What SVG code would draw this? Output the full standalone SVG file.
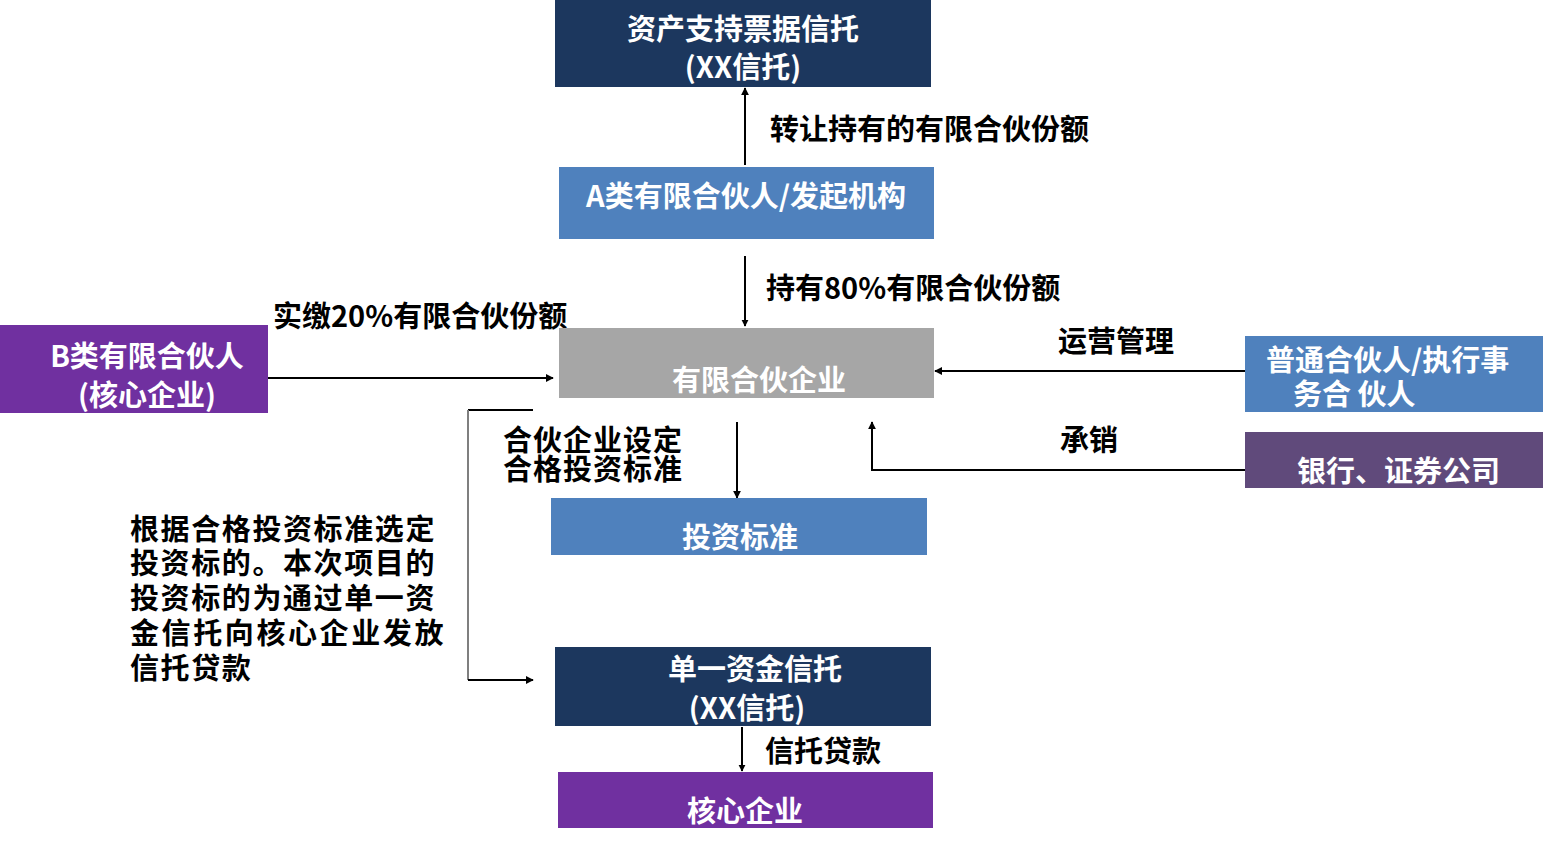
<svg xmlns="http://www.w3.org/2000/svg" width="1543" height="847" viewBox="0 0 1543 847">
<defs>
<style>
text{font-family:"Noto Sans CJK SC","Liberation Sans",sans-serif;font-weight:bold;font-size:29px}
.w{fill:#ffffff}
.k{fill:#000000}
.c{text-anchor:middle}
.ln{stroke:#000;stroke-width:2;fill:none}
.g{stroke:#7f7f7f;stroke-width:2;fill:none}
</style>
<marker id="ah" viewBox="0 0 10 10" refX="9" refY="5" markerWidth="7" markerHeight="8" markerUnits="userSpaceOnUse" orient="auto"><path d="M0,0 L10,5 L0,10 z" fill="#000"/></marker>
<marker id="ah2" viewBox="0 0 10 10" refX="9" refY="5" markerWidth="8" markerHeight="9" markerUnits="userSpaceOnUse" orient="auto"><path d="M0,0 L10,5 L0,10 z" fill="#000"/></marker>
</defs>
<rect width="1543" height="847" fill="#ffffff"/>
<g id="connectors">
<line class="ln" x1="745" y1="165" x2="745" y2="88" marker-end="url(#ah2)"/>
<line class="ln" x1="745" y1="256" x2="745" y2="326" marker-end="url(#ah)"/>
<line class="ln" x1="268" y1="378" x2="553" y2="378" marker-end="url(#ah2)"/>
<line class="ln" x1="1245" y1="371" x2="935" y2="371" marker-end="url(#ah2)"/>
<polyline class="ln" points="1245,470 872,470 872,422" marker-end="url(#ah2)"/>
<line class="ln" x1="737" y1="422" x2="737" y2="498" marker-end="url(#ah2)"/>
<line class="ln" x1="533" y1="410" x2="468" y2="410"/>
<line class="g" x1="468" y1="410" x2="468" y2="680"/>
<line class="ln" x1="468" y1="680" x2="533" y2="680" marker-end="url(#ah2)"/>
<line class="ln" x1="742" y1="727" x2="742" y2="771" marker-end="url(#ah)"/>
<text class="k" x="770" y="140">转让持有的有限合伙份额</text>
<text class="k" x="766" y="299">持有80%有限合伙份额</text>
<text class="k" x="273" y="327">实缴20%有限合伙份额</text>
<text class="k" x="1058" y="352">运营管理</text>
<text class="k" x="1060" y="451">承销</text>
<text class="k" x="503" y="451" letter-spacing="1">合伙企业设定</text>
<text class="k" x="503" y="480" letter-spacing="1">合格投资标准</text>
<text class="k" x="765" y="762">信托贷款</text>
</g>
<g id="note">
<text class="k" x="130" y="540" letter-spacing="1.6">根据合格投资标准选定</text>
<text class="k" x="130" y="574" letter-spacing="1.6">投资标的。本次项目的</text>
<text class="k" x="130" y="609" letter-spacing="1.6">投资标的为通过单一资</text>
<text class="k" x="130" y="644" letter-spacing="2.6">金信托向核心企业发放</text>
<text class="k" x="130" y="679" letter-spacing="1.6">信托贷款</text>
</g>
<g id="abn-trust">
<rect x="555" y="0" width="376" height="87" fill="#1c375e"/>
<text class="w c" x="743" y="40">资产支持票据信托</text>
<text class="w c" x="743" y="78">(XX信托)</text>
</g>
<g id="a-lp">
<rect x="559" y="167" width="375" height="72" fill="#4f81bd"/>
<text class="w c" x="746" y="207">A类有限合伙人/发起机构</text>
</g>
<g id="lp-firm">
<rect x="559" y="328" width="375" height="70" fill="#a6a6a6"/>
<text class="w c" x="759" y="391">有限合伙企业</text>
</g>
<g id="b-lp">
<rect x="0" y="325" width="268" height="88" fill="#7030a0"/>
<text class="w c" x="147" y="367">B类有限合伙人</text>
<text class="w c" x="147" y="406">(核心企业)</text>
</g>
<g id="gp">
<rect x="1245" y="336" width="298" height="76" fill="#4f81bd"/>
<text class="w" x="1266" y="371">普通合伙人/执行事</text>
<text class="w" x="1293" y="405">务合 伙人</text>
</g>
<g id="bank">
<rect x="1245" y="432" width="298" height="56" fill="#604a7b"/>
<text class="w" x="1297" y="482">银行、证券公司</text>
</g>
<g id="invest-std">
<rect x="551" y="498" width="376" height="57" fill="#4f81bd"/>
<text class="w c" x="740" y="548">投资标准</text>
</g>
<g id="single-trust">
<rect x="555" y="647" width="376" height="79" fill="#1c375e"/>
<text class="w c" x="755" y="680">单一资金信托</text>
<text class="w c" x="747" y="719">(XX信托)</text>
</g>
<g id="core">
<rect x="558" y="772" width="375" height="56" fill="#7030a0"/>
<text class="w c" x="745" y="822">核心企业</text>
</g>
</svg>
